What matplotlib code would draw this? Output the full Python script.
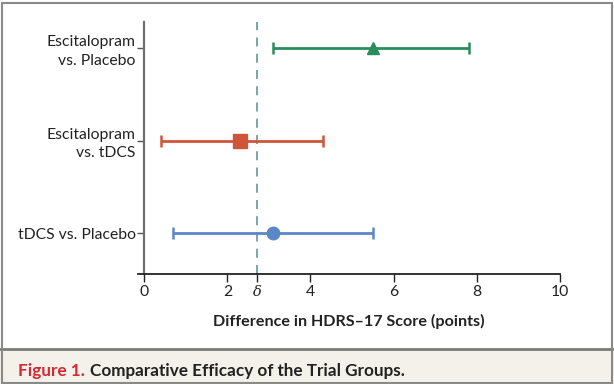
import matplotlib
matplotlib.use("Agg")
import matplotlib.pyplot as plt
from matplotlib.patches import Rectangle
from matplotlib.lines import Line2D

# Data
comparisons = ["Escitalopram\nvs. Placebo", "Escitalopram\nvs. tDCS", "tDCS vs. Placebo"]
estimates = [5.5, 2.3, 3.1]
lower_ci = [3.1, 0.4, 0.7]
upper_ci = [7.8, 4.3, 5.5]
colors = ["#2a8c5a", "#cf553a", "#5b87c6"]
markers = ["^", "s", "o"]
marker_sizes = [8, 10, 9]
delta = 2.72
xticks = [0, 2, delta, 4, 6, 8, 10]
xticklabels = ["0", "2", "\u03b4", "4", "6", "8", "10"]
xlabel = "Difference in HDRS\u201317 Score (points)"
caption_num = "Figure 1."
caption_text = "Comparative Efficacy of the Trial Groups."

plt.rcParams['font.family'] = ['Lato', 'DejaVu Sans']

fig = plt.figure(figsize=(6.14, 3.84), dpi=100)

# caption panel background and borders
fig.patches.append(Rectangle((0, 0), 1, 1 - 349/384, transform=fig.transFigure,
                             facecolor="#f4f1ea", edgecolor="none", zorder=0))
fig.lines.append(Line2D([0, 1], [1 - 349/384, 1 - 349/384], transform=fig.transFigure,
                        color="#7a7a7a", lw=2))
fig.patches.append(Rectangle((2/614, 1/384), 610/614, 380/384, transform=fig.transFigure,
                             facecolor="none", edgecolor="#8a8a8a", lw=1.5, zorder=5))

x0px, x1px = 137.5, 560
ax = fig.add_axes([x0px/614, 1 - 274/384, (x1px - x0px)/614, (274 - 22)/384])
ax.set_xlim(-0.16, 10)
n = len(comparisons)
ypos = list(range(n, 0, -1))
ax.set_ylim(0.56, 3.28)

for i in range(n):
    est = estimates[i]
    ax.errorbar([est], [ypos[i]], xerr=[[est - lower_ci[i]], [upper_ci[i] - est]],
                fmt=markers[i], color=colors[i], ms=marker_sizes[i], elinewidth=2,
                capsize=4.5, capthick=1.8, zorder=3)

ax.axvline(delta, color="#6f9bb0", lw=1.3, ls=(0, (5, 4)), zorder=2)

for s in ["top", "right"]:
    ax.spines[s].set_visible(False)
ax.spines["left"].set_position(("data", 0))
ax.spines["left"].set_color("#707070")
ax.spines["left"].set_linewidth(1.6)
ax.spines["bottom"].set_color("#222222")
ax.spines["bottom"].set_linewidth(1.3)

ax.set_yticks(ypos)
ax.set_yticklabels(comparisons, fontsize=11.3, color="#222222", ha="right", linespacing=1.4)
ax.tick_params(axis="y", length=5, width=1, color="#555555", pad=1)
ax.set_xticks(xticks)
ax.set_xticklabels(xticklabels, fontsize=11.3, color="#222222")
for lab in ax.get_xticklabels():
    if lab.get_text() == "\u03b4":
        lab.set_family(["DejaVu Serif"])
        lab.set_fontstyle("italic")
        lab.set_fontsize(10.5)
ax.tick_params(axis="x", length=6, width=1, color="#222222", pad=2)
ax.set_xlabel(xlabel, fontsize=11.6, fontweight="bold", color="#222222", labelpad=11)

t1 = fig.text(18/614, 1 - 371/384, caption_num, color="#d42a35", fontsize=12.3,
              fontweight="bold", va="center", ha="left")
fig.canvas.draw()
bb = t1.get_window_extent(fig.canvas.get_renderer())
fig.text((bb.x1 + 5)/614, 1 - 371/384, caption_text, color="#222222", fontsize=12.3,
         fontweight="bold", va="center", ha="left")

fig.savefig("out.png", dpi=100)
